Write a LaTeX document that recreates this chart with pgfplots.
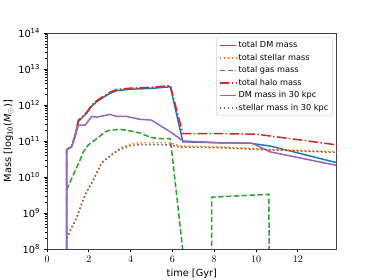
\documentclass[border=0pt]{standalone}
\usepackage{pgfplots}
\pgfplotsset{compat=1.18}
\usepackage{fontspec}
\setmainfont{DejaVu Sans}
\definecolor{c0}{HTML}{1F77B4}
\definecolor{c1}{HTML}{FF7F0E}
\definecolor{c2}{HTML}{2CA02C}
\definecolor{c3}{HTML}{D62728}
\definecolor{c4}{HTML}{9467BD}
\definecolor{c5}{HTML}{8C564B}
\newcommand{\fs}{\fontsize{9.8}{11.5}\selectfont}
\newcommand{\fl}{\fontsize{8.2}{9.8}\selectfont}
\begin{document}
\begin{tikzpicture}[x=1pt,y=1pt]
\useasboundingbox (0,0) rectangle (374,280);
\begin{axis}[
  at={(47pt,31pt)}, anchor=south west,
  scale only axis, width=289.7pt, height=216pt,
  ymode=log, xmin=0, xmax=13.86, ymin=1e8, ymax=1e14,
  xtick={0,2,4,6,8,10,12},
  ytick={1e8,1e9,1e10,1e11,1e12,1e13,1e14},
  yticklabels={10\textsuperscript{8},10\textsuperscript{9},10\textsuperscript{10},10\textsuperscript{11},10\textsuperscript{12},10\textsuperscript{13},10\textsuperscript{14}},
  tick pos=left, tick align=outside,
  major tick length=3.5pt, minor tick length=2pt,
  every tick/.style={black, line width=0.8pt},
  minor tick style={line width=0.6pt},
  axis line style={line width=0.8pt, black!75},
  tick label style={font=\fs},
  label style={font=\fs},
  xlabel={time [Gyr]},
  ylabel={Mass [log\textsubscript{10}(\textit{M}\textsubscript{$\odot$})]},
  ylabel style={yshift=-2pt},
  legend cell align=left,
  legend image code/.code={\draw[#1] (0pt,0pt) -- (16.7pt,0pt);},
  legend style={at={(0.986,0.98)}, anchor=north east, draw=black!20, rounded corners=2pt,
    fill=white, fill opacity=0.8, text opacity=1, font=\fl, row sep=1.8pt, inner sep=2.5pt,
    nodes={inner sep=1.5pt}},
]
\addplot[c0, solid, line width=1.5pt] coordinates {
(0.94,1) (0.94,5.6e10) (1.18,6.9e10) (1.34,1.3e11) (1.50,3.5e11) (1.66,4.3e11) (1.90,5.9e11)
(2.14,9.3e11) (2.38,1.23e12) (2.69,1.62e12) (3.01,2.1e12) (3.33,2.5e12) (4.0,2.75e12)
(4.45,2.8e12) (5.0,2.9e12) (5.9,3.2e12) (6.5,9.5e10) (8.3,8.9e10) (9.7,8.7e10) (10.7,7.2e10) (13.86,2.5e10)};
\addlegendentry{total DM mass}
\addplot[c1, line width=1.5pt, dash pattern=on 1.5pt off 2.5pt] coordinates {
(0.95,2e8) (1.18,4e8) (1.34,5.8e8) (1.5,9.8e8) (1.66,1.86e9) (1.9,3.9e9) (2.22,8.3e9)
(2.6,2.4e10) (2.86,3.2e10) (3.2,4.8e10) (3.5,6.3e10) (4.0,8.3e10) (4.45,8.9e10) (5.0,9.1e10)
(5.9,8.9e10) (6.36,7.2e10) (8.3,6.8e10) (10.2,6.0e10) (13.86,5.0e10)};
\addlegendentry{total stellar mass}
\addplot[c2, line width=1.5pt, dash pattern=on 5.5pt off 2.4pt] coordinates {
(0.94,4.4e9) (1.26,1.15e10) (1.58,2.95e10) (1.74,5.0e10) (1.98,7.8e10) (2.3,1.07e11)
(2.8,1.8e11) (3.0,2.0e11) (3.5,2.1e11) (4.0,1.9e11) (4.45,1.66e11) (4.95,1.26e11)
(5.35,1.17e11) (5.9,1.17e11) (6.5,9e7) (7.87,1) (7.88,2.75e9) (10.62,3.3e9) (10.63,1) (13.86,1)};
\addlegendentry{total gas mass}
\addplot[c3, line width=1.5pt, dash pattern=on 9.6pt off 2.4pt on 1.5pt off 2.4pt] coordinates {
(0.94,1) (0.94,5.7e10) (1.18,7.3e10) (1.34,1.4e11) (1.50,3.75e11) (1.66,4.6e11) (1.90,6.3e11)
(2.14,1.0e12) (2.38,1.32e12) (2.69,1.74e12) (3.01,2.25e12) (3.33,2.7e12) (4.0,2.95e12)
(4.45,3.0e12) (5.0,3.1e12) (5.9,3.45e12) (6.5,1.6e11) (8.3,1.6e11) (10.0,1.55e11) (11.6,1.17e11) (13.86,7.8e10)};
\addlegendentry{total halo mass}
\addplot[c4, solid, line width=1.5pt] coordinates {
(0.94,1) (0.94,5.6e10) (1.18,6.9e10) (1.34,1.3e11) (1.5,2.75e11) (1.82,2.75e11)
(2.14,4.8e11) (2.38,4.6e11) (2.69,5.0e11) (3.01,5.5e11) (3.33,4.8e11) (3.8,4.8e11)
(4.45,4.0e11) (5.0,3.8e11) (5.9,1.8e11) (6.5,1.0e11) (8.3,8.9e10) (9.8,8.7e10) (10.67,5.0e10) (13.86,2.1e10)};
\addlegendentry{DM mass in 30 kpc}
\addplot[c5, line width=1.5pt, dash pattern=on 1.5pt off 2.5pt] coordinates {
(0.95,2e8) (1.18,4e8) (1.34,5.8e8) (1.5,9.8e8) (1.66,1.86e9) (1.9,3.9e9) (2.22,8.3e9)
(2.6,2.4e10) (2.86,3.2e10) (3.2,4.6e10) (3.5,5.9e10) (4.0,7.4e10) (4.45,7.9e10) (5.0,8.0e10)
(5.9,7.8e10) (6.36,6.8e10) (8.3,6.5e10) (10.2,5.8e10) (13.86,4.8e10)};
\addlegendentry{stellar mass in 30 kpc}
\end{axis}
\end{tikzpicture}
\end{document}
